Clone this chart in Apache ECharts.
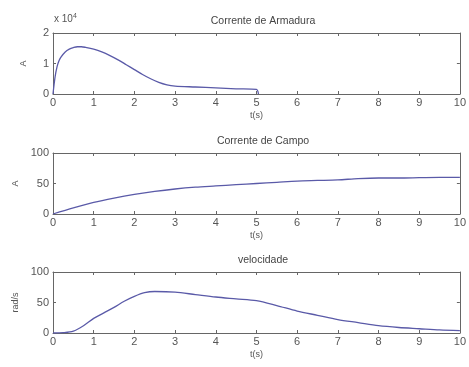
<!DOCTYPE html>
<html>
<head>
<meta charset="utf-8" />
<title></title>
<script type="text/javascript" src="https://cdn.jsdelivr.net/npm/echarts@6/dist/echarts.min.js"></script>
<style>html,body{margin:0;padding:0;background:#fff;}</style>
</head>
<body>
<div id="main" style="width:469px;height:367px;"></div>
<script type="text/javascript">
// dados
var tArmadura = [0, 0.05, 0.1, 0.15, 0.2, 0.3, 0.4, 0.5, 0.6, 0.7, 0.8, 1, 1.2, 1.4, 1.6, 1.8, 2, 2.2, 2.4, 2.6, 2.8, 3, 3.5, 4, 4.5, 5, 5.05];
var armadura = [0, 0.55, 0.9, 1.1, 1.22, 1.38, 1.47, 1.52, 1.55, 1.55, 1.53, 1.47, 1.38, 1.26, 1.12, 0.96, 0.8, 0.64, 0.5, 0.38, 0.3, 0.26, 0.23, 0.2, 0.17, 0.15, 0];
var tCampo = [0, 0.5, 1, 1.5, 2, 2.5, 3, 3.5, 4, 4.5, 5, 5.5, 6, 6.5, 7, 7.5, 8, 8.5, 9, 9.5, 10];
var campo = [0, 10, 19, 26, 32, 37, 41, 44, 46, 48, 50, 52, 54, 55, 56, 58, 59, 59, 59.5, 60, 60];
var tVel = [0, 0.25, 0.5, 0.75, 1, 1.25, 1.5, 1.75, 2, 2.25, 2.5, 3, 3.5, 4, 4.5, 5, 5.5, 6, 6.5, 7, 7.5, 8, 8.5, 9, 9.5, 10];
var velocidade = [0, 0.5, 3, 12, 24, 33, 42, 52, 60, 66, 68, 67, 63, 59, 56, 53, 45, 36, 29, 22, 17, 12, 9, 7, 5, 4];
var titulos = ['Corrente de Armadura', 'Corrente de Campo', 'velocidade'];
var nomesY = ['A', 'A', 'rad/s'];

function pares(t, v) {
  return t.map(function (x, i) { return [x, v[i]]; });
}

var fonte = 'Liberation Sans';
var cinza = '#555';
var tops = [33, 153, 272];
var grids = [], xAxes = [], yAxes = [], series = [], titles = [];
var dados = [pares(tArmadura, armadura), pares(tCampo, campo), pares(tVel, velocidade)];
var yMax = [2, 100, 100];
var yInt = [1, 50, 50];

for (var i = 0; i < 3; i++) {
  grids.push({ left: 53, right: 6, top: tops[i], height: 61, show: false });
  titles.push({
    text: titulos[i], left: 258, top: tops[i] - 22, textAlign: 'center',
    textStyle: { fontFamily: fonte, fontSize: 10.5, fontWeight: 'normal', color: '#444' }
  });
  xAxes.push({
    type: 'value', gridIndex: i, min: 0, max: 10, interval: 1, position: 'bottom',
    name: 't(s)', nameLocation: 'middle', nameGap: 17,
    nameTextStyle: { fontFamily: fonte, fontSize: 9, color: cinza },
    axisLine: { onZero: false, lineStyle: { color: '#666', width: 1 } },
    axisTick: { inside: true, length: 3, lineStyle: { color: '#666' } },
    axisLabel: { fontFamily: fonte, fontSize: 11, color: cinza, margin: 3 },
    splitLine: { show: false }
  });
  xAxes.push({
    type: 'value', gridIndex: i, min: 0, max: 10, interval: 1, position: 'top',
    axisLine: { onZero: false, lineStyle: { color: '#666', width: 1 } },
    axisTick: { inside: true, length: 3, lineStyle: { color: '#666' } },
    axisLabel: { show: false }, splitLine: { show: false }
  });
  yAxes.push({
    type: 'value', gridIndex: i, min: 0, max: yMax[i], interval: yInt[i], position: 'left',
    name: nomesY[i], nameLocation: 'middle', nameGap: i === 2 ? 33 : 25,
    nameTextStyle: { fontFamily: fonte, fontSize: 9, color: cinza },
    axisLine: { show: true, onZero: false, lineStyle: { color: '#666', width: 1 } },
    axisTick: { show: true, inside: true, length: 3, lineStyle: { color: '#666' } },
    axisLabel: { fontFamily: fonte, fontSize: 11, color: cinza, margin: 4 },
    splitLine: { show: false }
  });
  yAxes.push({
    type: 'value', gridIndex: i, min: 0, max: yMax[i], interval: yInt[i], position: 'right',
    axisLine: { show: true, onZero: false, lineStyle: { color: '#666', width: 1 } },
    axisTick: { show: true, inside: true, length: 3, lineStyle: { color: '#666' } },
    axisLabel: { show: false }, splitLine: { show: false }
  });
  series.push({
    type: 'line', xAxisIndex: i * 2, yAxisIndex: i * 2, data: dados[i],
    showSymbol: false, smooth: 0.3, clip: true,
    lineStyle: { color: '#5a5aa8', width: 1.3 }
  });
}

var chart = echarts.init(document.getElementById('main'));
chart.setOption({
  backgroundColor: '#fff',
  animation: false,
  title: titles,
  grid: grids,
  xAxis: xAxes,
  yAxis: yAxes,
  series: series,
  graphic: [{
    type: 'text', left: 54, top: 13,
    style: {
      text: 'x 10{s|4}',
      rich: { s: { fontSize: 7, verticalAlign: 'top', fontFamily: fonte, fill: cinza, padding: [0, 0, 5, 0] } },
      fontFamily: fonte, fontSize: 10, fill: cinza
    }
  }]
});
</script>
</body>
</html>
